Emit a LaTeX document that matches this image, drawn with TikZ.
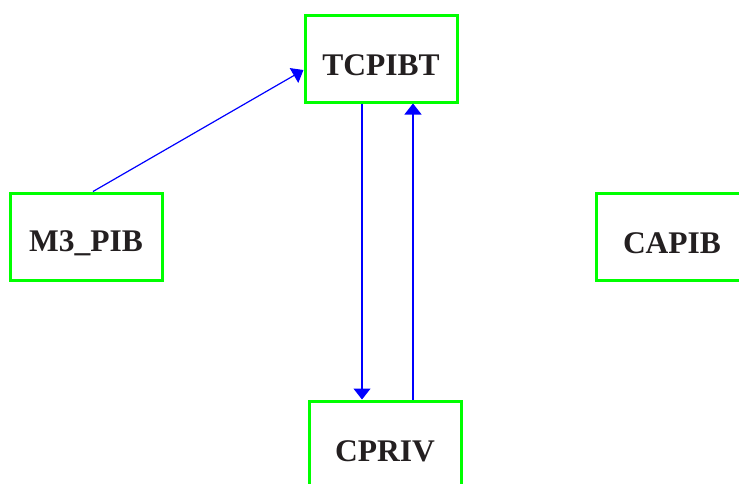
\documentclass[tikz,border=0pt]{standalone}
\usepackage{fontspec}
\setmainfont{Liberation Serif}
\usetikzlibrary{arrows.meta}
\definecolor{boxgreen}{RGB}{0,255,0}
\definecolor{linkblue}{RGB}{0,0,255}
\definecolor{txt}{RGB}{35,31,32}
\tikzset{
  modbox/.style={draw=boxgreen, line width=3pt, minimum width=152pt, minimum height=87pt, inner sep=0pt},
  modlabel/.style={label={[yshift=-7pt, text=txt, font=\fontsize{31.5}{31.5}\selectfont\bfseries]center:#1}},
  link/.style={draw=linkblue, line width=1.2pt, -{Triangle[length=11pt,width=17pt]}}
}
\begin{document}
\begin{tikzpicture}[x=1pt,y=-1pt]
\useasboundingbox (0,0) rectangle (739,483);
\clip (0,0) rectangle (739,483);
\node[modbox, modlabel=TCPIBT] (tcp) at (381,58.5) {};
\node[modbox, modlabel=M3\_PIB] (m3) at (86,236.5) {};
\node[modbox, modlabel=CAPIB] (capib) at (672,236.5) {};
\node[modbox, modlabel=CPRIV] (cpriv) at (385,444.5) {};
\draw[link] ([xshift=7pt]m3.north) -- ([yshift=-11.5pt]tcp.west);
\draw[link] ([xshift=-19pt]tcp.south) -- ([xshift=-23pt]cpriv.north);
\draw[link] ([xshift=28pt]cpriv.north) -- ([xshift=32pt]tcp.south);
\end{tikzpicture}
\end{document}
